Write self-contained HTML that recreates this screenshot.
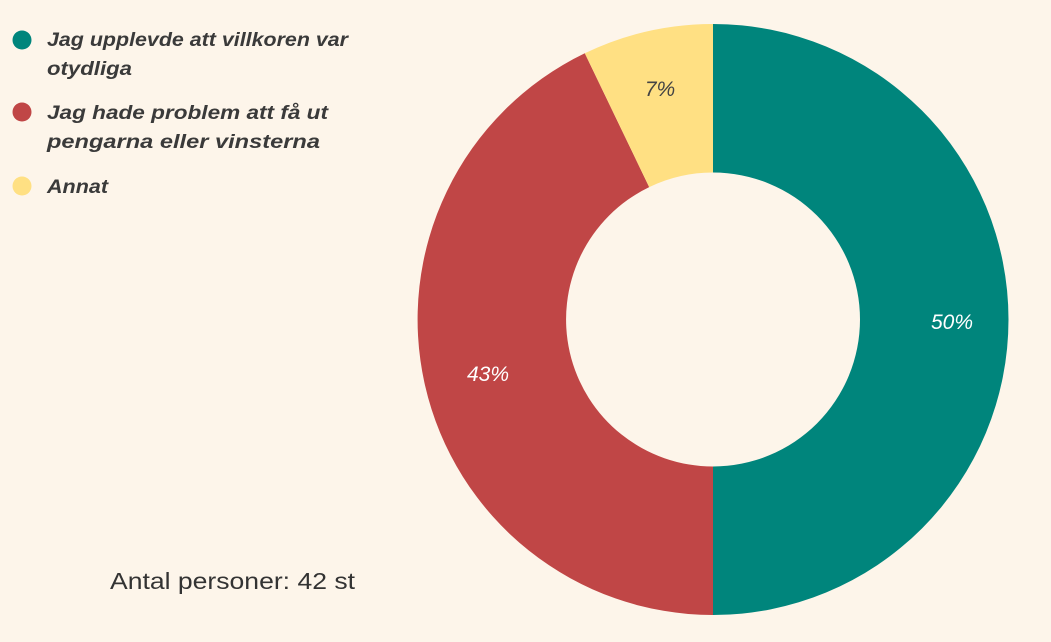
<!DOCTYPE html>
<html><head><meta charset="utf-8"><style>
html,body{margin:0;padding:0;background:#FDF5EA;}
body{width:1051px;height:642px;overflow:hidden;position:relative;font-family:"Liberation Sans",sans-serif;}
</style></head><body>
<svg width="1051" height="642" viewBox="0 0 1051 642" style="position:absolute;left:0;top:0">
<rect width="1051" height="642" fill="#FDF5EA"/>
<path d="M713,24 A295.5,295.5 0 0 1 713,615 L713,466.5 A147,147 0 0 0 713,172.5 Z" fill="#00857C"/>
<path d="M713,615 A295.5,295.5 0 0 1 584.8,53.3 L649.2,187.1 A147,147 0 0 0 713,466.5 Z" fill="#C04646"/>
<path d="M584.8,53.3 A295.5,295.5 0 0 1 713,24 L713,172.5 A147,147 0 0 0 649.2,187.1 Z" fill="#FFE083"/>
<g font-family="Liberation Sans, sans-serif" font-style="italic" font-size="21" text-anchor="middle">
<text x="952" y="329" fill="#fff">50%</text>
<text x="488" y="381" fill="#fff">43%</text>
<text x="660" y="96" fill="#444">7%</text>
</g>
<circle cx="22" cy="40" r="9.5" fill="#00857C"/>
<circle cx="22" cy="112" r="9.5" fill="#C04646"/>
<circle cx="22" cy="186" r="9.5" fill="#FFE083"/>
<g font-family="Liberation Sans, sans-serif" font-style="italic" font-weight="bold" font-size="19" fill="#3a3a3a">
<text x="47" y="46" textLength="301" lengthAdjust="spacingAndGlyphs">Jag upplevde att villkoren var</text>
<text x="47" y="75" textLength="85" lengthAdjust="spacingAndGlyphs">otydliga</text>
<text x="47" y="119" textLength="281" lengthAdjust="spacingAndGlyphs">Jag hade problem att få ut</text>
<text x="47" y="148" textLength="273" lengthAdjust="spacingAndGlyphs">pengarna eller vinsterna</text>
<text x="47" y="193" textLength="61" lengthAdjust="spacingAndGlyphs">Annat</text>
</g>
<text x="110" y="589" font-family="Liberation Sans, sans-serif" font-size="23" fill="#333" textLength="245" lengthAdjust="spacingAndGlyphs">Antal personer: 42 st</text>
</svg>
</body></html>
